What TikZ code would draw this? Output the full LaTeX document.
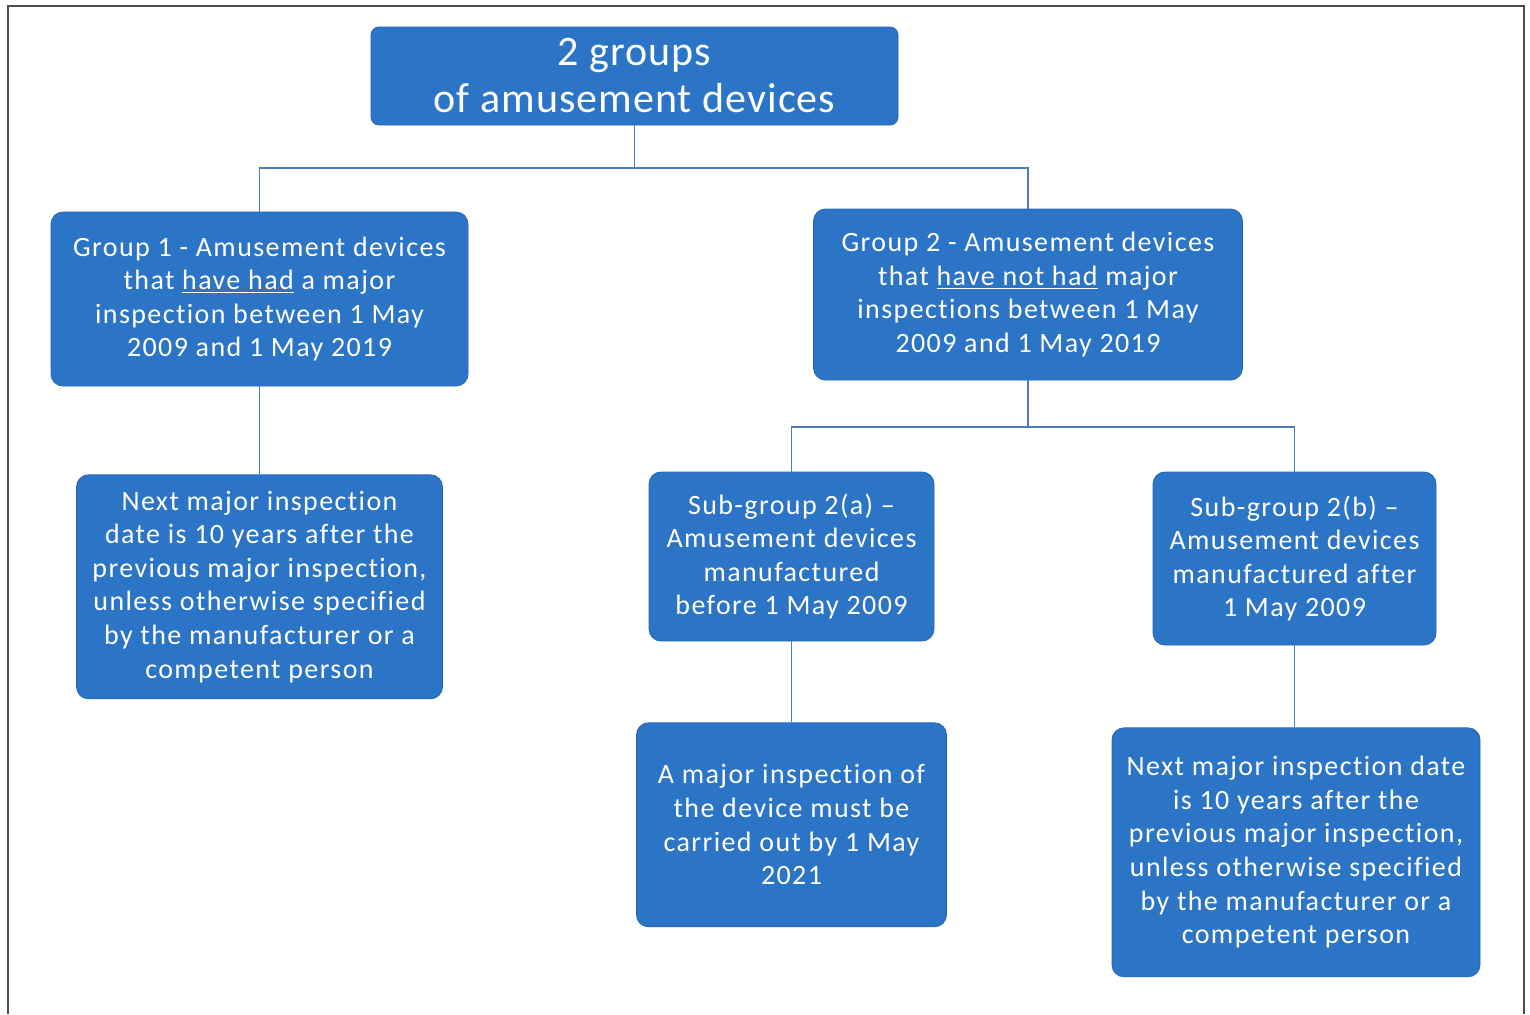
\documentclass[tikz,border=0pt]{standalone}
\usepackage{fontspec}
\setmainfont[Ligatures=NoCommon]{Carlito}
\usepackage{xcolor}
\usepackage{tikz}
\usetikzlibrary{positioning}
\definecolor{boxblue}{HTML}{2B74C6}
\definecolor{boxedge}{HTML}{2466B4}
\definecolor{linkblue}{HTML}{4E7BBE}
\tikzset{
  grpbox/.style={
    rectangle, rounded corners=6pt, draw=boxedge, fill=boxblue,
    text=white, align=center, inner sep=0pt,
    font=\fontsize{14}{16.8}\selectfont\addfontfeatures{LetterSpace=5}
  },
  topbox/.style={
    grpbox, rounded corners=4pt,
    font=\fontsize{21}{23.5}\selectfont\addfontfeatures{LetterSpace=2.5}
  },
  link/.style={draw=linkblue, line width=0.8pt},
  frameline/.style={draw=black!70, line width=0.9pt}
}
\newcommand{\ul}[1]{\underline{#1}}

\begin{document}
\begin{tikzpicture}[x=0.5pt, y=-0.5pt]
\useasboundingbox (0,0) rectangle (1530,1014);

% Frame
\draw[frameline] (8,1014) -- (8,6) -- (1524,6) -- (1524,1014);

% Top level
\node[topbox, minimum width=263.5pt, minimum height=49pt] (title) at (634.5,76)
  {2 groups\\of amusement devices};

% Groups
\node[grpbox, minimum width=208.5pt, minimum height=87pt] (grp1) at (259.5,299)
  {Group 1 - Amusement devices\\that \ul{have had} a major\\inspection between 1 May\\2009 and 1 May 2019};
\node[grpbox, minimum width=214.5pt, minimum height=85.5pt] (grp2) at (1028,294.5)
  {Group 2 - Amusement devices\\that \ul{have not had} major\\inspections between 1 May\\2009 and 1 May 2019};

% Row 3
\node[grpbox, minimum width=183pt, minimum height=112pt, below=44pt of grp1] (next1)
  {Next major inspection\\date is 10 years after the\\previous major inspection,\\unless otherwise specified\\by the manufacturer or a\\competent person};
\node[grpbox, minimum width=142.5pt, minimum height=84.5pt] (sub2a) at (791.5,556.5)
  {Sub-group 2(a) --\\Amusement devices\\manufactured\\before 1 May 2009};
\node[grpbox, minimum width=141.5pt, minimum height=86.5pt] (sub2b) at (1294.5,558.5)
  {Sub-group 2(b) --\\Amusement devices\\manufactured after\\1 May 2009};

% Row 4
\node[grpbox, minimum width=155pt, minimum height=102pt, below=40.5pt of sub2a] (due2a)
  {A major inspection of\\the device must be\\carried out by 1 May\\2021};
\node[grpbox, minimum width=184pt, minimum height=124.5pt, below=41pt of sub2b, xshift=0.75pt] (next2b)
  {Next major inspection date\\is 10 years after the\\previous major inspection,\\unless otherwise specified\\by the manufacturer or a\\competent person};

% Connectors
\coordinate (split1) at (634.5,168);
\coordinate (split2) at (grp2.south |- 0,427);
\draw[link] (title.south) -- (split1);
\draw[link] (split1) -| (grp1.north);
\draw[link] (split1) -| (grp2.north);
\draw[link] (grp1) -- (next1);
\draw[link] (grp2.south) -- (split2);
\draw[link] (split2) -| (sub2a.north);
\draw[link] (split2) -| (sub2b.north);
\draw[link] (sub2a) -- (due2a);
\draw[link] (sub2b.south) -- (sub2b.south |- next2b.north);

\end{tikzpicture}
\end{document}
